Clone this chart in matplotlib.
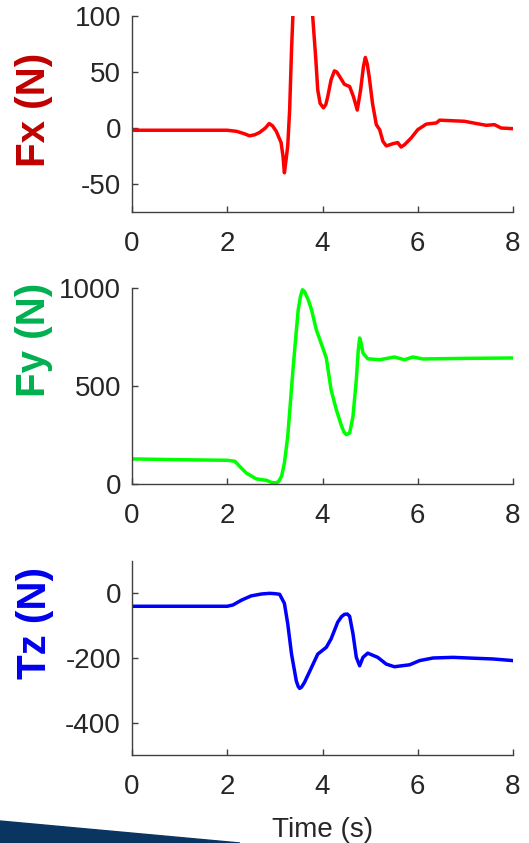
import matplotlib
matplotlib.use("Agg")
import matplotlib.pyplot as plt
from matplotlib.patches import Polygon

plt.rcParams["font.family"] = ["Liberation Sans", "DejaVu Sans"]

# Fx (N) vs time
fx_t = [0, 1, 2.0, 2.2, 2.35, 2.47, 2.58, 2.68, 2.8, 2.88, 2.95, 3.03, 3.13, 3.17, 3.2,
        3.23, 3.27, 3.31, 3.35, 3.38, 3.55, 3.79, 3.86, 3.9, 3.95, 4.02, 4.07, 4.11,
        4.18, 4.25, 4.3, 4.36, 4.46, 4.57, 4.65, 4.73, 4.8, 4.86, 4.9, 4.94, 4.98,
        5.05, 5.13, 5.2, 5.27, 5.34, 5.48, 5.58, 5.65, 5.72, 5.86, 6.0, 6.18, 6.39,
        6.46, 6.98, 7.23, 7.44, 7.61, 7.75, 8.0]
fx_v = [-2, -2, -2, -3, -5, -7, -6, -4, 0, 4, 2, -3, -13, -25, -40,
        -30, -16, 16, 70, 102, 250, 102, 61, 34, 22, 18, 21, 28,
        43, 51, 50, 46, 39, 37, 28, 16, 34, 55, 63, 57, 46,
        22, 3, -1.5, -12, -16, -14, -13, -17, -15, -9, -1.5, 3.5, 4.5,
        7, 6, 4, 2.4, 3, 0, -0.6]

# Fy (N) vs time
fy_t = [0, 1, 2.0, 2.16, 2.26, 2.4, 2.61, 2.82, 2.93, 3.0, 3.07, 3.14, 3.2, 3.27, 3.38,
        3.45, 3.49, 3.54, 3.58, 3.62, 3.7, 3.77, 3.87, 3.97, 4.08, 4.18, 4.29,
        4.39, 4.45, 4.5, 4.57, 4.64, 4.71, 4.75, 4.78, 4.81, 4.85, 4.95, 5.2, 5.51,
        5.72, 5.9, 6.11, 7.0, 8.0]
fy_v = [128, 124, 121, 116, 90, 56, 26, 19, 8, 6, 10, 39, 107, 243, 583,
        780, 889, 960, 991, 983, 940, 889, 787, 719, 643, 481, 379,
        303, 265, 252, 260, 345, 532, 680, 745, 720, 668, 639, 634, 648,
        634, 648, 638, 641, 643]

# Tz (N) vs time
tz_t = [0, 2.0, 2.12, 2.3, 2.5, 2.72, 2.89, 3.0, 3.1, 3.2, 3.27, 3.35, 3.45, 3.49,
        3.52, 3.56, 3.62, 3.77, 3.9, 4.08, 4.18, 4.32, 4.4, 4.46, 4.52, 4.57, 4.64,
        4.71, 4.78, 4.85, 4.95, 5.16, 5.34, 5.51, 5.83, 6.04, 6.32, 6.74, 7.23,
        7.58, 8.0]
tz_v = [-40, -40, -36, -21, -8, -2, 0, -1, -3, -31, -94, -188, -271, -288,
        -294, -290, -276, -229, -188, -167, -141, -89, -72, -65, -64, -71, -125,
        -198, -224, -198, -185, -198, -219, -227, -221, -208, -200, -198, -201,
        -203, -208]

W, H = 529, 843
fig = plt.figure(figsize=(W / 100, H / 100), dpi=100)


def add_axes(top, bottom):
    return fig.add_axes([132 / W, 1 - bottom / H, (513 - 132) / W, (bottom - top) / H])


def style(ax, ylim, yticks):
    ax.set_xlim(0, 8)
    ax.set_ylim(*ylim)
    ax.set_xticks([0, 2, 4, 6, 8])
    ax.set_yticks(yticks)
    ax.set_yticklabels([str(v) for v in yticks])
    for s in ["top", "right"]:
        ax.spines[s].set_visible(False)
    for s in ["left", "bottom"]:
        ax.spines[s].set_color("#404040")
        ax.spines[s].set_linewidth(1.0)
    ax.tick_params(direction="in", length=4, width=1, color="#404040",
                   labelsize=20, labelcolor="#262626", pad=8)
    ax.tick_params(axis="x", pad=14)


ax1 = add_axes(16, 212)
ax1.plot(fx_t, fx_v, color="#ff0000", lw=2.5)
style(ax1, (-75, 100), [-50, 0, 50, 100])

ax2 = add_axes(288, 484)
ax2.plot(fy_t, fy_v, color="#00ff00", lw=2.5)
style(ax2, (0, 1000), [0, 500, 1000])

ax3 = add_axes(561, 755)
ax3.plot(tz_t, tz_v, color="#0000ff", lw=2.5)
style(ax3, (-500, 100), [-400, -200, 0])
ax3.set_xlabel("Time (s)", fontsize=20, color="#262626", labelpad=12)

# y labels placed like the slide
fig.text(34 / W, 1 - 110 / H, "Fx (N)", rotation=90, ha="center", va="center",
         fontsize=29, fontweight="bold", color="#c00000")
fig.text(34 / W, 1 - 340 / H, "Fy (N)", rotation=90, ha="center", va="center",
         fontsize=29, fontweight="bold", color="#00b050")
fig.text(35 / W, 1 - 623 / H, "Tz (N)", rotation=90, ha="center", va="center",
         fontsize=29, fontweight="bold", color="#0000ee")

# slide decoration in bottom-left corner
fig.patches.append(Polygon([[0, 1 - 821 / H], [240 / W, 0], [0, 0]], closed=True,
                           transform=fig.transFigure, color="#0b3561", zorder=0))

fig.savefig("out.png", dpi=100)
